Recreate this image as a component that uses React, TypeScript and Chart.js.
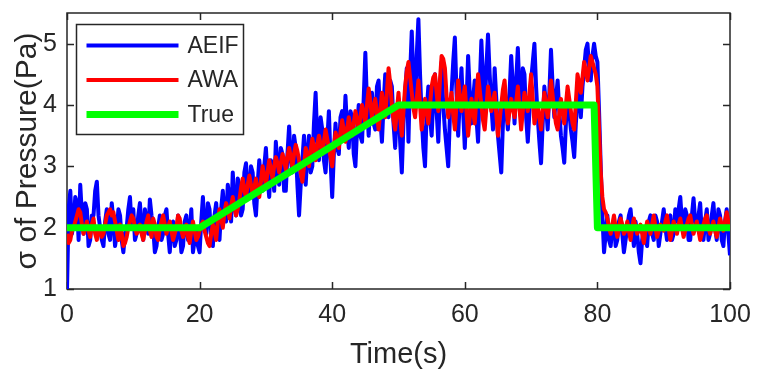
import React, { useEffect, useRef } from "react";
import { Chart, registerables } from "chart.js";

Chart.register(...registerables);

// ---------- data ----------
const X_TICKS = [0, 20, 40, 60, 80, 100];
const Y_TICKS = [1, 2, 3, 4, 5];
const X_MIN = 0;
const X_MAX = 100;
const Y_MIN = 1;
const Y_MAX = 5.5;
const TIME_STEP = 0.25; // seconds between samples of the estimated series

const SERIES_NAMES = ["AEIF", "AWA", "True"];

// AEIF estimate, two lines = 5 s
const AEIF = [
  1.0, 2.3, 2.6, 1.9, 2.1, 2.5, 2.4, 1.8, 2.7, 2.2,
  1.9, 2.4, 2.3, 1.7, 1.8, 2.2, 2.2, 2.6, 2.75, 2.2,
  2.0, 1.8, 1.7, 2.1, 2.3, 1.9, 1.8, 2.4, 2.1, 1.7,
  1.9, 2.3, 2.2, 1.8, 1.6, 1.9, 2.0, 2.3, 2.5, 2.0,
  2.3, 1.8, 1.9, 2.2, 2.4, 2.0, 1.8, 2.3, 2.1, 1.9,
  2.46, 2.2, 2.0, 1.6, 1.7, 2.0, 2.2, 1.8, 1.9, 2.2,
  2.3, 1.9, 1.6, 2.0, 2.1, 1.7, 1.8, 2.2, 2.0, 1.6,
  1.7, 2.1, 2.2, 1.8, 1.9, 2.3, 1.6, 1.8, 2.0, 1.7,
  1.6, 2.1, 2.5, 2.0, 1.9, 2.4, 2.3, 1.8, 1.7, 2.2,
  2.4, 2.0, 1.8, 2.3, 2.6, 2.2, 2.1, 2.7, 2.5, 2.1,
  2.9, 2.4, 2.2, 2.8, 2.7, 2.2, 2.3, 2.9, 3.05, 2.6,
  2.5, 3.0, 2.9, 2.4, 2.2, 2.7, 3.1, 2.8, 2.6, 3.0,
  3.3, 2.8, 2.5, 3.1, 3.0, 2.6, 3.4, 3.0, 2.7, 3.3,
  3.2, 2.6, 2.6, 3.2, 3.65, 3.1, 2.9, 3.5, 3.3, 2.7,
  2.2, 2.7, 3.1, 3.5, 2.7, 3.2, 3.5, 2.9, 3.0, 3.7,
  4.2, 3.4, 3.1, 3.8, 3.6, 3.1, 2.9, 3.4, 3.9, 3.1,
  2.5, 3.2, 3.7, 3.3, 3.2, 3.8, 3.9, 3.5, 4.15, 3.6,
  3.3, 3.9, 3.8, 3.2, 3.0, 3.6, 4.0, 3.5, 3.4, 4.1,
  4.85, 4.0, 3.5, 4.1, 4.2, 3.7, 3.6, 4.3, 4.4, 3.8,
  3.4, 4.0, 4.5, 4.0, 3.8, 4.4, 4.3, 3.7, 3.3, 3.9,
  4.1, 3.4, 2.9, 3.7, 4.2, 4.6, 3.4, 4.5, 5.2, 4.4,
  4.0, 4.8, 5.4, 4.5, 3.8, 3.3, 3.0, 3.9, 4.3, 3.8,
  3.5, 4.1, 4.5, 3.9, 3.4, 4.2, 4.7, 4.0, 3.6, 3.3,
  3.0, 3.8, 4.2, 4.7, 5.1, 4.2, 3.5, 4.1, 4.6, 3.9,
  3.3, 4.0, 4.8, 4.2, 3.7, 4.1, 4.4, 3.8, 3.4, 4.3,
  5.05, 4.4, 3.9, 4.6, 5.15, 4.5, 4.0, 3.6, 4.6, 4.1,
  3.5, 3.2, 2.9, 3.7, 4.3, 3.9, 3.6, 4.2, 4.8, 4.3,
  3.7, 4.4, 4.93, 4.2, 3.9, 4.6, 4.5, 3.8, 3.4, 3.9,
  4.4, 4.7, 5.0, 4.3, 3.8, 3.4, 3.05, 3.7, 4.3, 4.0,
  3.6, 4.2, 4.9, 4.3, 3.8, 4.1, 4.4, 3.9, 3.5, 3.3,
  3.06, 3.7, 4.2, 3.9, 3.6, 3.4, 3.15, 3.7, 4.1, 4.4,
  3.8, 4.3, 4.6, 4.9, 5.0, 4.6, 4.4, 4.8, 5.0, 4.8,
  4.7, 3.9, 3.0, 2.2, 1.6, 1.9, 2.2, 1.8, 1.7, 2.0,
  2.1, 1.7, 1.8, 2.1, 2.2, 1.9, 1.6, 1.8, 2.0, 2.2,
  2.3, 2.0, 1.7, 2.1, 1.9, 1.6, 1.42, 1.8, 2.0, 1.8,
  1.7, 2.1, 2.2, 1.9, 1.8, 2.2, 2.1, 1.7, 1.9, 2.1,
  2.3, 2.0, 1.8, 2.1, 2.2, 1.8, 1.9, 2.3, 2.1, 2.3,
  2.5, 2.1, 1.9, 2.3, 2.2, 1.8, 1.8, 2.2, 2.48, 2.1,
  2.0, 2.2, 2.4, 1.9, 1.8, 2.1, 2.3, 1.8, 1.9, 2.2,
  2.4, 2.0, 1.8, 2.3, 2.2, 1.8, 1.7, 2.1, 2.3, 1.9,
  1.55,
];

// AWA estimate, two lines = 5 s
const AWA = [
  1.9, 1.75, 1.8, 1.95, 2.0, 2.1, 2.2, 2.3, 2.25, 2.05,
  1.9, 2.0, 2.1, 1.95, 1.85, 2.05, 2.15, 1.9, 1.8, 1.95,
  2.0, 1.85, 1.9, 2.05, 2.2, 2.25, 2.3, 2.2, 2.25, 2.1,
  1.95, 1.8, 2.05, 1.9, 1.7, 1.75, 1.85, 2.0, 2.1, 2.2,
  2.15, 2.0, 1.9, 1.95, 2.05, 1.9, 1.8, 1.95, 2.1, 2.2,
  1.95, 1.85, 2.15, 2.05, 1.85, 1.8, 2.0, 2.1, 2.2, 2.05,
  1.9, 2.0, 2.1, 1.95, 1.8, 1.9, 2.0, 2.2, 2.15, 1.95,
  1.85, 1.95, 2.05, 1.85, 1.75, 1.95, 2.1, 1.95, 1.8, 1.85,
  1.95, 2.05, 2.1, 1.95, 1.85, 1.75, 1.7, 1.9, 2.05, 1.95,
  1.8, 2.1, 2.3, 2.15, 2.0, 2.25, 2.4, 2.3, 2.15, 2.35,
  2.5, 2.35, 2.2, 2.3, 2.45, 2.65, 2.8, 2.6, 2.5, 2.7,
  2.85, 2.7, 2.55, 2.65, 2.8, 2.6, 2.5, 2.75, 3.0, 2.85,
  2.7, 2.9, 3.1, 2.95, 2.8, 3.0, 3.15, 3.05, 2.9, 3.05,
  3.2, 3.1, 2.95, 3.15, 3.3, 3.15, 3.0, 3.2, 3.35, 3.25,
  3.1, 2.9, 2.75, 3.0, 3.3, 3.2, 3.0, 3.25, 3.45, 3.3,
  3.1, 3.35, 3.5, 3.35, 3.2, 3.4, 3.6, 3.45, 3.3, 3.15,
  3.0, 3.3, 3.55, 3.45, 3.3, 3.55, 3.75, 3.6, 3.4, 3.6,
  3.8, 3.65, 3.5, 3.7, 3.9, 3.75, 3.6, 3.8, 4.0, 3.85,
  3.7, 4.0, 4.27, 4.05, 3.8, 3.95, 4.1, 3.85, 3.6, 3.9,
  4.2, 4.0, 3.8, 4.2, 4.6, 4.35, 4.0, 3.75, 3.6, 3.9,
  4.2, 3.8, 3.5, 3.9, 4.3, 4.55, 4.7, 4.45, 4.2, 3.95,
  3.8, 4.1, 4.4, 4.0, 3.6, 3.85, 4.1, 3.9, 3.7, 4.0,
  4.3, 4.45, 4.5, 4.2, 3.9, 4.4, 4.8, 4.75, 4.6, 4.15,
  3.8, 4.0, 4.2, 3.85, 3.6, 4.0, 4.4, 4.15, 3.9, 4.1,
  4.3, 3.9, 3.5, 3.8, 4.1, 3.9, 3.7, 4.1, 4.5, 4.25,
  4.0, 3.75, 3.6, 3.95, 4.3, 4.1, 3.9, 4.05, 4.2, 3.85,
  3.5, 3.75, 4.0, 4.25, 4.4, 4.0, 3.7, 3.9, 4.1, 3.95,
  3.8, 4.05, 4.3, 3.95, 3.6, 3.9, 4.2, 4.05, 3.9, 4.2,
  4.5, 4.1, 3.7, 3.85, 4.0, 3.8, 3.6, 3.9, 4.2, 4.0,
  3.8, 4.1, 4.4, 4.15, 3.9, 3.7, 3.6, 3.85, 4.1, 3.9,
  3.7, 4.0, 4.3, 4.1, 3.9, 3.7, 3.6, 4.05, 4.5, 4.35,
  4.2, 4.45, 4.7, 4.55, 4.4, 4.6, 4.8, 4.7, 4.6, 4.5,
  4.3, 3.6, 2.9, 2.5, 2.3, 2.25, 2.15, 2.0, 1.9, 2.05,
  2.2, 2.0, 1.85, 2.0, 2.15, 2.05, 1.9, 1.95, 2.1, 1.95,
  1.8, 2.0, 2.15, 2.0, 1.9, 1.95, 2.05, 1.9, 1.75, 1.95,
  2.1, 2.0, 1.9, 2.05, 2.2, 2.0, 1.85, 1.95, 2.05, 2.0,
  1.95, 2.1, 2.2, 2.0, 1.8, 1.95, 2.1, 2.0, 1.9, 2.05,
  2.15, 2.0, 1.85, 1.95, 2.05, 2.15, 2.2, 2.05, 1.9, 2.0,
  2.1, 1.95, 1.8, 1.9, 2.05, 2.15, 2.2, 2.0, 1.9, 2.0,
  2.1, 1.95, 1.85, 2.0, 2.15, 2.05, 1.95, 2.1, 2.25, 2.1,
  2.0,
];

// True value (breakpoints)
const TRUE_T = [0, 20, 50, 79.5, 80, 100];
const TRUE_V = [2, 2, 4, 4, 2, 2];

// ---------- styles ----------
const COLORS = ["#0000ff", "#ff0000", "#00ff00"];
const WIDTHS = [4, 4, 7];
const INK = "#262626";
const FONT = "'Liberation Sans', Arial, Helvetica, sans-serif";

const boxPlugin = {
  id: "matlabBox",
  beforeDatasetsDraw(chart: any) {
    const { ctx, chartArea: a, scales } = chart;
    ctx.save();
    ctx.strokeStyle = INK;
    ctx.lineWidth = 1.5;
    ctx.strokeRect(a.left, a.top, a.right - a.left, a.bottom - a.top);
    const L = 7;
    ctx.beginPath();
    scales.x.ticks.forEach((t: any) => {
      const px = Math.round(scales.x.getPixelForValue(t.value)) + 0.5;
      ctx.moveTo(px, a.bottom);
      ctx.lineTo(px, a.bottom - L);
      ctx.moveTo(px, a.top);
      ctx.lineTo(px, a.top + L);
    });
    scales.y.ticks.forEach((t: any) => {
      const py = Math.round(scales.y.getPixelForValue(t.value)) + 0.5;
      ctx.moveTo(a.left, py);
      ctx.lineTo(a.left + L, py);
      ctx.moveTo(a.right, py);
      ctx.lineTo(a.right - L, py);
    });
    ctx.stroke();
    ctx.restore();
  },
};

const legendPlugin = {
  id: "matlabLegend",
  afterDraw(chart: any) {
    const { ctx, chartArea: a } = chart;
    const x0 = a.left + 9.5;
    const y0 = a.top + 11.5;
    const w = 167;
    const h = 110;
    ctx.save();
    ctx.fillStyle = "#ffffff";
    ctx.fillRect(x0, y0, w, h);
    ctx.strokeStyle = INK;
    ctx.lineWidth = 1.5;
    ctx.strokeRect(x0, y0, w, h);
    const order = [...chart.data.datasets].sort((p: any, q: any) => p.legendIndex - q.legendIndex);
    order.forEach((ds: any, i: number) => {
      const cy = y0 + 21 + i * 34.5;
      ctx.strokeStyle = ds.borderColor;
      ctx.lineWidth = ds.borderWidth;
      ctx.lineCap = "butt";
      ctx.beginPath();
      ctx.moveTo(x0 + 10, cy);
      ctx.lineTo(x0 + 102, cy);
      ctx.stroke();
      ctx.fillStyle = INK;
      ctx.font = `23px ${FONT}`;
      ctx.textBaseline = "middle";
      ctx.textAlign = "left";
      ctx.fillText(ds.label, x0 + 111, cy + 1);
    });
    ctx.restore();
  },
};

export default function App() {
  const ref = useRef<HTMLCanvasElement | null>(null);

  useEffect(() => {
    if (!ref.current) return;
    const toPts = (arr: number[]) => arr.map((v, i) => ({ x: i * TIME_STEP, y: v }));
    const truePts = TRUE_T.map((t, i) => ({ x: t, y: TRUE_V[i] }));
    const seriesData = [toPts(AEIF), toPts(AWA), truePts];

    const chart = new Chart(ref.current, {
      type: "line",
      data: {
        datasets: seriesData.map((d, i) => ({
          label: SERIES_NAMES[i],
          data: d,
          borderColor: COLORS[i],
          backgroundColor: COLORS[i],
          borderWidth: WIDTHS[i],
          pointRadius: 0,
          tension: 0,
          fill: false,
          borderJoinStyle: "round",
          order: 3 - i,
          legendIndex: i,
        })) as any,
      },
      options: {
        animation: false,
        responsive: false,
        maintainAspectRatio: false,
        layout: { padding: { top: 13, right: 30, left: 0, bottom: 0 } },
        plugins: {
          legend: { display: false },
          tooltip: { enabled: false },
        },
        scales: {
          x: {
            type: "linear",
            min: X_MIN,
            max: X_MAX,
            grid: { display: false, drawTicks: false },
            border: { display: false },
            afterBuildTicks: (s: any) => {
              s.ticks = X_TICKS.map((v) => ({ value: v }));
            },
            afterFit: (s: any) => {
              s.height = 89;
              s.paddingLeft = 0;
              s.paddingRight = 0;
            },
            ticks: {
              color: INK,
              padding: 11,
              maxRotation: 0,
              font: { family: FONT, size: 25 },
            },
            title: {
              display: true,
              text: "Time(s)",
              color: INK,
              font: { family: FONT, size: 29 },
              padding: { top: 0, bottom: 6 },
            },
          },
          y: {
            type: "linear",
            min: Y_MIN,
            max: Y_MAX,
            grid: { display: false, drawTicks: false },
            border: { display: false },
            afterBuildTicks: (s: any) => {
              s.ticks = Y_TICKS.map((v) => ({ value: v }));
            },
            afterFit: (s: any) => {
              s.width = 67;
              s.paddingTop = 0;
              s.paddingBottom = 0;
            },
            ticks: {
              color: INK,
              padding: 10,
              font: { family: FONT, size: 25 },
            },
            title: {
              display: true,
              text: "σ of Pressure(Pa)",
              color: INK,
              font: { family: FONT, size: 30 },
              padding: { top: 10, bottom: 0 },
            },
          },
        },
      },
      plugins: [boxPlugin, legendPlugin],
    });
    return () => chart.destroy();
  }, []);

  return (
    <div
      style={{
        position: "fixed",
        left: 0,
        top: 0,
        width: 760,
        height: 378,
        background: "#ffffff",
      }}
    >
      <canvas ref={ref} width={760} height={378} style={{ width: 760, height: 378 }} />
    </div>
  );
}
